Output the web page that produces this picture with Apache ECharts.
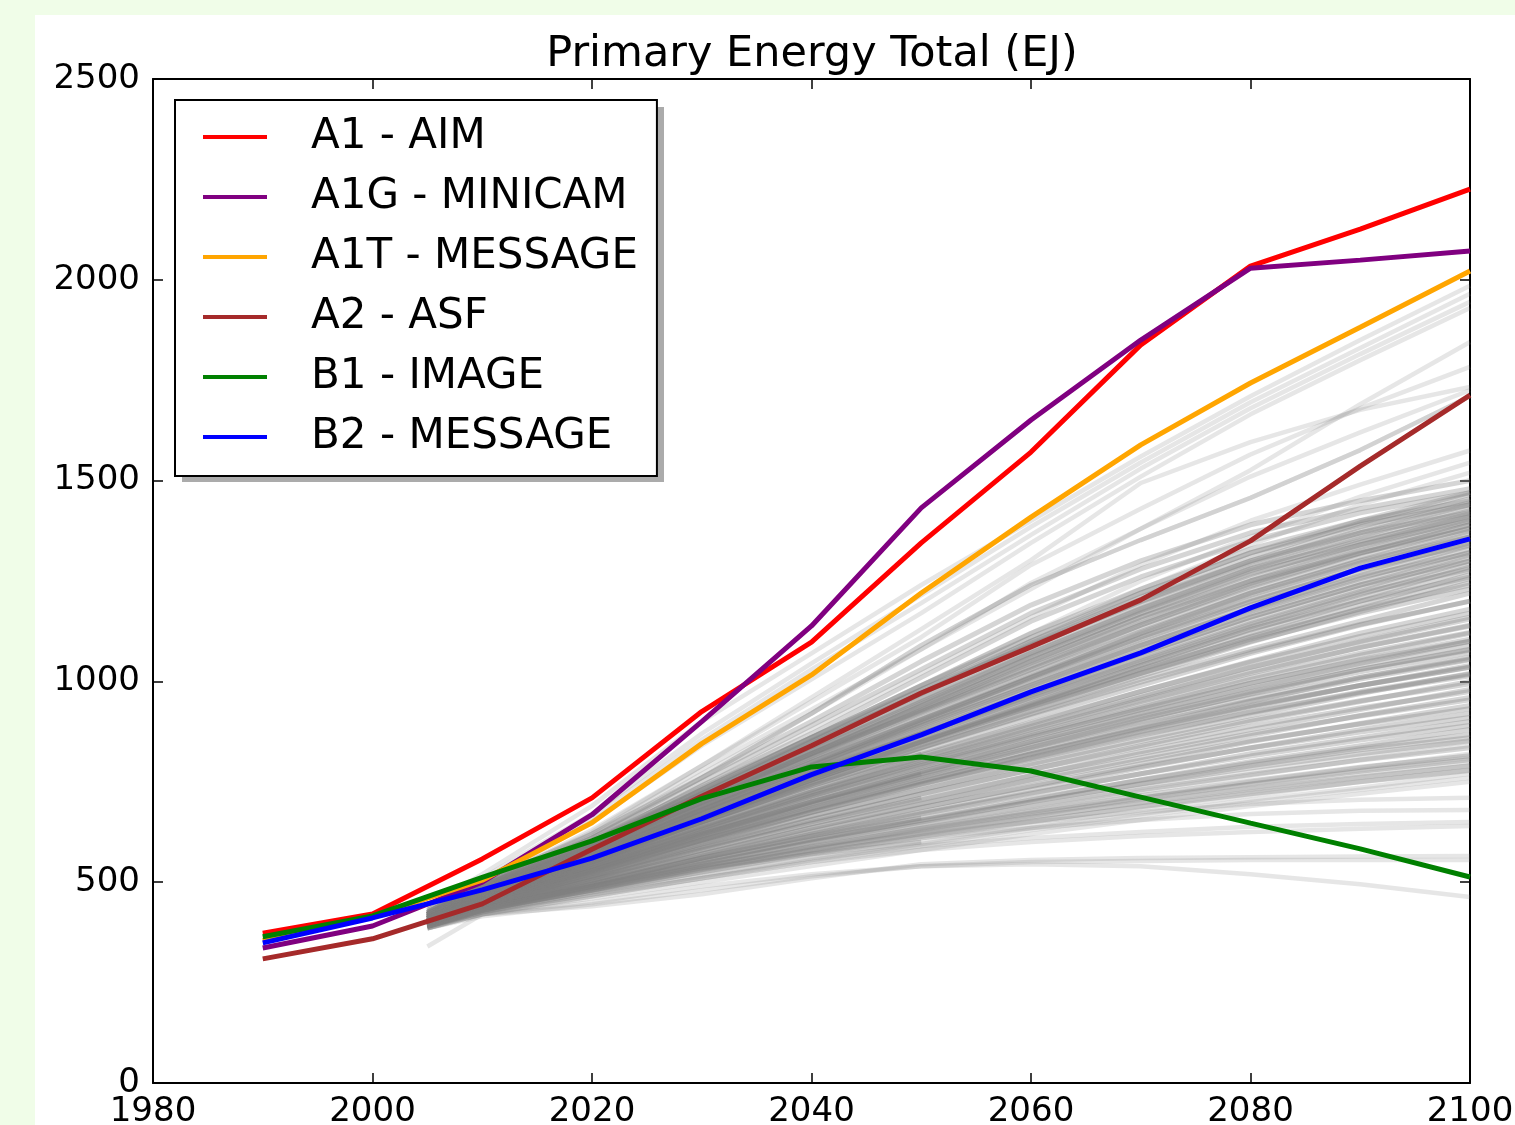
<!DOCTYPE html>
<html><head><meta charset="utf-8">
<script src="https://cdn.jsdelivr.net/npm/echarts@6/dist/echarts.min.js"></script>
<style>
html,body{margin:0;padding:0;background:#f0fde8;width:1515px;height:1125px;overflow:hidden}
#chart{position:absolute;left:35px;top:15px;width:1480px;height:1110px;}
</style></head><body><div id="chart"></div>
<script>
// ---- data ----
const TITLE = 'Primary Energy Total (EJ)';
const YEARS = [1990,2000,2010,2020,2030,2040,2050,2060,2070,2080,2090,2100];
const A1_AIM      = [373,421,558,710,925,1098,1345,1571,1838,2034,2126,2226];
const A1G_MINICAM = [336,391,500,668,900,1138,1432,1651,1850,2029,2049,2072];
const A1T_MESSAGE = [355,415,505,648,845,1016,1220,1409,1589,1743,1882,2022];
const A2_ASF      = [309,359,446,582,714,840,971,1086,1203,1350,1536,1713];
const B1_IMAGE    = [364,416,512,603,708,787,812,777,712,647,583,513];
const B2_MESSAGE  = [349,411,481,560,658,768,867,974,1071,1183,1282,1355];
const SERIES_NAMES = ['A1 - AIM','A1G - MINICAM','A1T - MESSAGE','A2 - ASF','B1 - IMAGE','B2 - MESSAGE'];
const SERIES_COLORS = ['#ff0000','#800080','#ffa500','#a52a2a','#008000','#0000ff'];
const X_TICKS = [1980,2000,2020,2040,2060,2080,2100];
const Y_TICKS = [0,500,1000,1500,2000,2500];

// other scenarios (gray), values at GRAY_YEARS
const GRAY_YEARS = [2005,2010,2020,2030,2040,2050,2060,2070,2080,2090,2100];
// sparse, outlying scenarios
const GRAY_OUTER = [
 [440,520,690,900,1070,1240,1400,1560,1710,1850,1985],
 [435,510,670,870,1045,1215,1385,1545,1695,1830,1965],
 [430,505,660,855,1030,1195,1365,1530,1680,1815,1945],
 [425,500,650,840,1005,1170,1345,1510,1665,1800,1930],
 [420,490,620,780,930,1080,1245,1380,1526,1690,1845],
 [425,495,630,790,950,1110,1290,1430,1565,1680,1783],
 [425,495,625,790,960,1130,1302,1494,1596,1676,1733],
 [420,490,615,770,920,1080,1230,1380,1510,1620,1725],
 [420,490,610,760,920,1090,1240,1352,1457,1576,1710],
 [420,490,610,760,920,1090,1240,1352,1457,1576,1710],
 [420,485,600,740,880,1020,1160,1290,1400,1490,1575],
 [415,480,595,730,860,990,1120,1250,1360,1460,1545],
 [415,480,590,720,850,980,1110,1230,1340,1440,1520],
 [400,440,495,550,600,645,690,735,775,815,850],
 [390,430,485,540,590,635,680,725,765,805,840],
 [395,435,485,535,580,625,665,710,750,785,820],
 [400,440,490,540,585,630,670,705,745,780,810],
 [390,430,480,530,575,620,660,700,735,770,800],
 [395,430,480,525,570,610,650,690,725,760,790],
 [390,425,470,515,560,600,640,680,715,750,780],
 [385,420,465,510,555,595,635,670,705,735,770],
 [390,425,470,510,550,590,630,665,700,730,760],
 [385,420,460,500,540,580,620,655,690,720,750],
 [400,440,490,540,585,620,650,675,695,705,710],
 [395,430,480,530,575,610,635,655,670,678,680],
 [390,425,475,520,560,590,610,625,638,645,650],
 [385,420,465,510,550,580,600,615,625,633,640],
 [340,420,440,470,510,545,555,560,562,564,565],
 [390,420,450,490,520,540,550,553,555,555,555],
 [385,415,445,480,515,540,545,540,520,495,463]
];
// dense central bundle of scenarios
const GRAY_CORE = [
 [430,500,620,760,900,1050,1190,1300,1390,1450,1500],
 [425,495,610,750,890,1030,1170,1280,1370,1430,1480],
 [420,490,600,740,870,1010,1150,1260,1350,1420,1470],
 [420,490,600,730,860,990,1120,1230,1330,1400,1450],
 [415,485,590,720,850,970,1100,1220,1320,1390,1440],
 [425,495,605,735,860,980,1090,1200,1300,1370,1420],
 [420,485,590,710,830,950,1070,1180,1280,1350,1410],
 [410,475,580,700,820,940,1060,1170,1270,1340,1400],
 [415,480,585,700,815,930,1050,1160,1250,1320,1390],
 [420,485,590,710,820,925,1030,1140,1240,1320,1380],
 [410,470,570,680,790,900,1010,1120,1220,1300,1360],
 [415,475,575,690,800,905,1010,1110,1200,1280,1340],
 [420,480,580,690,790,890,990,1090,1180,1260,1320],
 [410,470,565,670,770,870,970,1070,1160,1240,1300],
 [415,475,570,675,775,870,960,1050,1140,1220,1280],
 [405,465,555,655,755,850,945,1040,1130,1200,1260],
 [410,470,560,660,760,850,940,1030,1110,1180,1240],
 [400,460,550,650,745,835,920,1005,1080,1150,1220],
 [410,465,555,650,740,825,910,990,1070,1140,1200],
 [405,460,545,640,730,815,895,975,1050,1120,1180],
 [400,455,540,635,720,805,885,960,1035,1100,1160],
 [410,465,550,640,725,800,875,950,1020,1085,1140],
 [405,460,545,630,715,790,865,935,1005,1065,1120],
 [400,455,535,620,700,775,850,920,985,1045,1100],
 [410,460,540,620,695,765,835,905,970,1030,1080],
 [400,450,525,605,680,750,820,885,950,1010,1060],
 [405,455,530,605,675,745,810,875,935,990,1040],
 [400,450,520,595,665,730,795,855,915,970,1020],
 [395,445,515,585,655,720,780,840,900,950,1000],
 [400,445,510,580,645,705,765,825,880,930,980],
 [395,440,505,570,635,695,755,810,865,915,960],
 [400,445,505,565,625,685,740,795,850,895,940],
 [390,435,495,560,620,675,730,785,835,880,920],
 [395,440,500,560,615,670,720,770,820,860,900],
 [390,430,490,550,605,655,705,755,800,840,880],
 [395,435,490,545,600,650,700,745,790,830,860],
 [425,490,600,730,860,990,1110,1220,1320,1400,1470],
 [420,488,598,726,852,978,1100,1210,1310,1395,1465],
 [418,485,595,720,845,970,1095,1205,1300,1385,1455],
 [422,487,596,722,846,968,1088,1198,1296,1376,1445],
 [415,482,590,715,838,960,1080,1190,1290,1370,1440],
 [420,484,592,716,836,955,1072,1182,1282,1362,1432],
 [418,480,586,708,828,948,1066,1176,1276,1356,1425],
 [412,478,584,706,826,944,1060,1168,1266,1346,1418],
 [416,479,585,705,822,938,1052,1160,1258,1340,1412],
 [420,482,586,704,820,934,1046,1152,1250,1333,1405],
 [414,477,580,698,814,928,1040,1146,1244,1326,1398],
 [410,474,576,694,810,924,1036,1140,1236,1318,1390],
 [418,480,582,698,810,920,1028,1132,1228,1310,1382],
 [412,475,576,690,802,912,1020,1124,1220,1302,1375],
 [408,472,573,686,798,906,1014,1118,1214,1295,1368],
 [415,476,576,688,798,904,1008,1110,1206,1288,1360],
 [410,472,570,682,792,898,1002,1104,1198,1280,1352],
 [406,468,566,678,788,894,996,1096,1190,1272,1345],
 [412,473,570,680,788,890,990,1090,1182,1264,1338],
 [408,470,566,675,782,884,984,1082,1174,1256,1330],
 [404,466,562,670,776,878,978,1076,1168,1248,1322],
 [410,470,565,672,776,876,972,1068,1160,1240,1315],
 [406,467,561,667,770,870,966,1060,1152,1232,1308],
 [402,463,557,662,765,864,960,1054,1144,1224,1300],
 [408,468,560,664,765,862,955,1046,1136,1216,1292],
 [404,464,556,659,759,856,948,1040,1128,1208,1285],
 [400,460,552,655,755,850,942,1032,1120,1200,1276],
 [406,465,555,656,754,848,938,1026,1112,1190,1266],
 [402,462,551,651,749,842,932,1020,1105,1182,1256],
 [398,458,547,647,744,836,926,1013,1098,1174,1246],
 [405,460,545,640,732,818,898,975,1048,1112,1170],
 [400,456,540,634,725,810,888,964,1036,1098,1155],
 [404,458,540,632,720,802,880,954,1024,1084,1138],
 [398,453,534,626,714,795,870,942,1010,1070,1122],
 [402,455,535,624,708,786,860,930,996,1054,1105],
 [396,450,528,616,700,778,850,918,982,1040,1090],
 [400,452,530,614,695,770,840,906,968,1024,1072],
 [394,447,522,606,686,760,828,892,952,1006,1054],
 [398,449,523,604,682,752,818,880,938,990,1036],
 [392,444,516,596,674,744,808,868,924,974,1018],
 [405,458,540,628,712,790,862,930,995,1052,1100],
 [400,453,532,618,700,776,846,912,974,1030,1078],
 [396,450,528,612,692,766,834,898,958,1010,1056],
 [402,452,528,608,684,754,820,882,940,990,1035],
 [398,448,522,600,674,742,806,866,922,972,1014],
 [394,444,516,592,664,730,792,850,904,952,994],
 [400,446,516,588,656,720,780,836,888,934,975],
 [396,442,510,580,646,708,766,820,870,914,954],
 [392,438,504,572,636,696,752,804,852,894,932],
 [398,442,506,570,630,686,738,788,834,874,910],
 [394,437,498,560,618,672,722,770,814,854,890],
 [390,433,492,552,608,660,708,754,796,834,868],
 [396,438,496,554,606,654,700,744,784,820,852],
 [392,434,490,546,598,644,688,730,768,804,835],
 [388,430,484,538,588,634,676,716,752,786,815],
 [394,435,488,540,588,632,672,710,744,776,805],
 [390,431,482,532,580,622,662,698,732,762,790],
 [386,427,476,526,572,614,652,688,720,750,778],
 [410,468,560,660,756,848,936,1020,1100,1170,1230],
 [404,462,552,650,744,834,918,998,1074,1142,1200]
];
// scenarios reported only up to 2050
const GRAY_SHORT = [
 [420,480,570,680,780,870],
 [410,465,550,650,740,820],
 [405,455,530,620,700,770],
 [400,445,510,585,650,710],
 [395,440,495,560,615,660],
 [390,430,480,535,570,600]
];

// ---- chart ----
const FONT = 'DejaVu Sans';
const chart = echarts.init(document.getElementById('chart'), null, {renderer:'canvas'});
const series = [];
function addGray(runs, opacity, width) {
  runs.forEach(run => {
    series.push({
      type:'line', silent:true, symbol:'none', showSymbol:false, z:1,
      data: run.map((v,i)=>[GRAY_YEARS[i], v]),
      lineStyle:{color:'#808080', width:width, opacity:opacity},
      emphasis:{disabled:true}, animation:false
    });
  });
}
addGray(GRAY_OUTER, 0.2, 4.5);
addGray(GRAY_SHORT, 0.3, 4.5);
addGray(GRAY_CORE, 0.33, 5);
const COLORED = [A1_AIM, A1G_MINICAM, A1T_MESSAGE, A2_ASF, B1_IMAGE, B2_MESSAGE];
COLORED.forEach((vals, k) => {
  series.push({
    name: SERIES_NAMES[k], type:'line', symbol:'none', showSymbol:false, z:3,
    color: SERIES_COLORS[k],
    data: vals.map((v,i)=>[YEARS[i], v]),
    lineStyle:{color:SERIES_COLORS[k], width:5},
    itemStyle:{color:SERIES_COLORS[k]},
    emphasis:{disabled:true}, animation:false
  });
});

const axisLineStyle = {show:true, onZero:false, lineStyle:{color:'#000', width:2}};
const tickStyle = {show:true, inside:true, length:10, lineStyle:{color:'#000', width:1.5}};
const xMin = X_TICKS[0], xMax = X_TICKS[X_TICKS.length-1], xInt = X_TICKS[1]-X_TICKS[0];
const yMin = Y_TICKS[0], yMax = Y_TICKS[Y_TICKS.length-1], yInt = Y_TICKS[1]-Y_TICKS[0];
const plain = v => String(v);

chart.setOption({
  backgroundColor:'#ffffff',
  animation:false,
  textStyle:{fontFamily:FONT},
  title:{text:TITLE, left:772, textAlign:'center', top:13, textStyle:{fontFamily:FONT, fontSize:43, fontWeight:'normal', color:'#000'}},
  grid:{left:118, right:45, top:64, bottom:42, containLabel:false, outerBoundsMode:'none'},
  xAxis:[
    {type:'value', min:xMin, max:xMax, interval:xInt, position:'bottom',
     axisLine:axisLineStyle, axisTick:tickStyle, splitLine:{show:false},
     axisLabel:{show:true, margin:12, formatter:plain, fontFamily:FONT, fontSize:34, color:'#000', showMinLabel:true, showMaxLabel:true}},
    {type:'value', min:xMin, max:xMax, interval:xInt, position:'top',
     axisLine:axisLineStyle, axisTick:tickStyle, splitLine:{show:false}, axisLabel:{show:false}}
  ],
  yAxis:[
    {type:'value', min:yMin, max:yMax, interval:yInt, position:'left',
     axisLine:axisLineStyle, axisTick:tickStyle, splitLine:{show:false},
     axisLabel:{show:true, margin:13, formatter:plain, fontFamily:FONT, fontSize:34, color:'#000', showMinLabel:true, showMaxLabel:true}},
    {type:'value', min:yMin, max:yMax, interval:yInt, position:'right',
     axisLine:axisLineStyle, axisTick:tickStyle, splitLine:{show:false}, axisLabel:{show:false}}
  ],
  graphic:[
    {type:'rect', z:3, silent:true, shape:{x:147, y:92, width:482, height:375}, style:{fill:'rgba(0,0,0,0.33)'}}
  ],
  legend:{
    data:SERIES_NAMES, orient:'vertical', left:140, top:85, z:4,
    icon:'rect', itemWidth:64, itemHeight:4, itemGap:18,
    padding:[16,19,18,28],
    backgroundColor:'#ffffff', borderColor:'#000', borderWidth:2, borderRadius:0,
    selectedMode:false,
    textStyle:{fontFamily:FONT, fontSize:42, color:'#000', lineHeight:42, padding:[0,0,0,39]}
  },
  series: series
});
</script></body></html>
